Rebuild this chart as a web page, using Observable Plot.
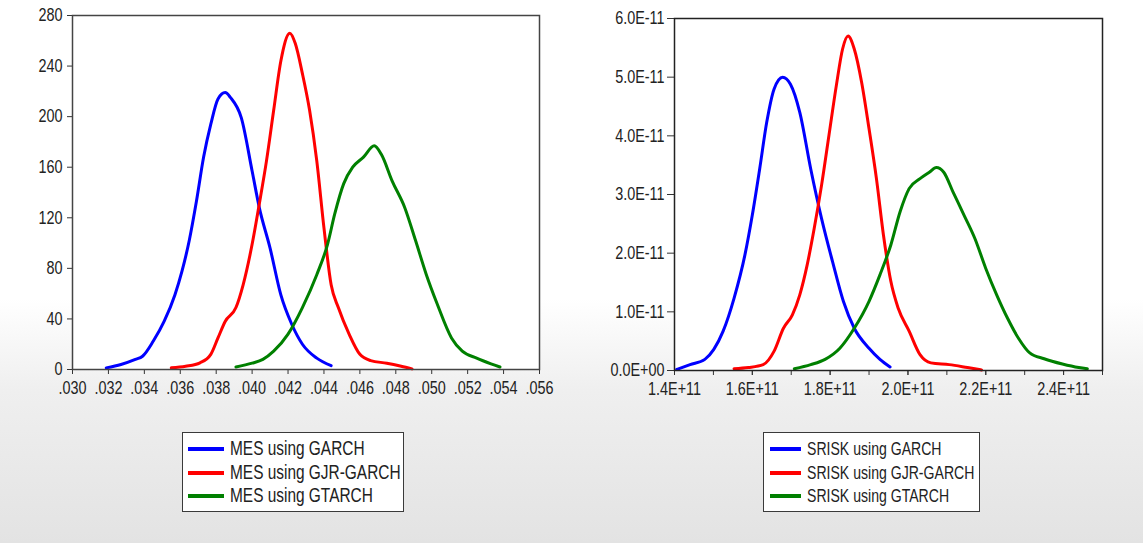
<!DOCTYPE html>
<html>
<head>
<meta charset="utf-8">
<script src="https://cdn.jsdelivr.net/npm/d3@7"></script>
<script src="https://cdn.jsdelivr.net/npm/@observablehq/plot@0.6"></script>
<style>
  html, body { margin: 0; padding: 0; }
  body { width: 1143px; height: 543px; overflow: hidden;
    background: linear-gradient(to bottom, #ffffff 0%, #ffffff 55%, #efefef 72%, #e3e3e3 100%); }
  #wrap { position: relative; width: 1143px; height: 543px;
    font-family: "Liberation Sans", Arial, sans-serif; color: #222; }
  .chart { position: absolute; top: 0; }
  .chart svg { background: transparent !important; overflow: visible; }
  .legend { position: absolute; background: #fff; border: 1.5px solid #3a3a3a; box-sizing: border-box; }
  .sw { position: absolute; height: 4px; }
  .lab { position: absolute; line-height: 22px; white-space: nowrap;
    transform: scaleX(0.80); transform-origin: 0 50%; }
</style>
</head>
<body>
<div id="wrap"></div>
<script>
// ---------------- DATA ----------------
const colors = ["#0000ff", "#ff0000", "#008000"];

// MES densities
const mesLabels = ["MES using GARCH", "MES using GJR-GARCH", "MES using GTARCH"];
const mesGarchX = [.03188,.0327,.0335,.0339,.0345,.0351,.0357,.0361,.0365,.0369,.0373,.0377,.0381,.0385,.0388,.0394,.0400,.0404,.0410,.0416,.0422,.0428,.0436,.0444];
const mesGarchY = [1.3,4,8,10.5,22.5,38,59,78,102,133,168,194,214,219,215,199,157,128,96,59,36,20,9,3];
const mesGjrX = [.0355,.0363,.0371,.0377,.0381,.0385,.0391,.0395,.0400,.0404,.0408,.0412,.0416,.0421,.0424,.0428,.0432,.0436,.0440,.0444,.0448,.0454,.0460,.0466,.0475,.0483,.0489];
const mesGjrY = [1.3,2.6,5.3,12,25,38,49,67,99,131,165,205,244,266,258,234,205,165,112,67,49,28,12,7,5,2.6,0.5];
const mesGtX = [.0391,.0400,.0406,.0412,.0420,.0428,.0436,.0442,.0446,.0451,.0456,.0462,.0468,.0472,.0478,.0485,.0491,.0497,.0503,.0511,.0517,.0525,.0533,.0538];
const mesGtY = [2,5,8,14.5,28,49,75,99,123,147,160,168,177,170,149,128,102,75,52,25,14.5,9,4.5,2];
const mesXTicks = [.030,.032,.034,.036,.038,.040,.042,.044,.046,.048,.050,.052,.054,.056];
const mesYTicks = [0,40,80,120,160,200,240,280];

// SRISK densities
const srLabels = ["SRISK using GARCH", "SRISK using GJR-GARCH", "SRISK using GTARCH"];
const srGarchX = [1.4056e11,1.440e11,1.478e11,1.501e11,1.525e11,1.553e11,1.581e11,1.600e11,1.619e11,1.637e11,1.656e11,1.678e11,1.698e11,1.722e11,1.750e11,1.778e11,1.806e11,1.834e11,1.862e11,1.900e11,1.928e11,1.954e11];
const srGarchY = [0.017e-11,0.10e-11,0.19e-11,0.36e-11,0.67e-11,1.23e-11,1.97e-11,2.65e-11,3.44e-11,4.23e-11,4.80e-11,5.00e-11,4.88e-11,4.40e-11,3.44e-11,2.59e-11,1.86e-11,1.18e-11,0.72e-11,0.38e-11,0.19e-11,0.06e-11];
const srGjrX = [1.553e11,1.590e11,1.628e11,1.656e11,1.680e11,1.703e11,1.722e11,1.741e11,1.759e11,1.778e11,1.797e11,1.816e11,1.832e11,1.846e11,1.862e11,1.881e11,1.900e11,1.919e11,1.937e11,1.956e11,1.975e11,2.003e11,2.031e11,2.059e11,2.106e11,2.153e11,2.189e11];
const srGjrY = [0.03e-11,0.05e-11,0.10e-11,0.33e-11,0.72e-11,0.95e-11,1.29e-11,1.80e-11,2.42e-11,3.16e-11,4.01e-11,4.86e-11,5.48e-11,5.70e-11,5.48e-11,4.91e-11,4.12e-11,3.27e-11,2.31e-11,1.52e-11,1.06e-11,0.67e-11,0.27e-11,0.13e-11,0.10e-11,0.05e-11,0.01e-11];
const srGtX = [1.708e11,1.750e11,1.787e11,1.825e11,1.862e11,1.900e11,1.928e11,1.956e11,1.980e11,2.003e11,2.031e11,2.055e11,2.073e11,2.092e11,2.116e11,2.144e11,2.172e11,2.200e11,2.228e11,2.256e11,2.284e11,2.313e11,2.350e11,2.397e11,2.439e11,2.461e11];
const srGtY = [0.03e-11,0.10e-11,0.19e-11,0.38e-11,0.72e-11,1.18e-11,1.63e-11,2.14e-11,2.71e-11,3.10e-11,3.27e-11,3.38e-11,3.46e-11,3.38e-11,3.04e-11,2.65e-11,2.25e-11,1.74e-11,1.29e-11,0.89e-11,0.55e-11,0.30e-11,0.20e-11,0.11e-11,0.05e-11,0.03e-11];
const srXTicks = [1.4e11,1.5e11,1.6e11,1.7e11,1.8e11,1.9e11,2.0e11,2.1e11,2.2e11,2.3e11,2.4e11,2.5e11];
const srXLabelTicks = [1.4e11,1.6e11,1.8e11,2.0e11,2.2e11,2.4e11];
const srYTicks = [0,1e-11,2e-11,3e-11,4e-11,5e-11,6e-11];

// ---------------- HELPERS ----------------
function rows(xs, ys, s) { return xs.map((x, i) => ({x, y: ys[i], s})); }
function sci(v) {
  if (v === 0) return "0.0E+00";
  let e = Math.floor(Math.log10(Math.abs(v)) + 1e-9);
  let m = v / Math.pow(10, e);
  return m.toFixed(1) + "E" + (e < 0 ? "-" : "+") + String(Math.abs(e)).padStart(2, "0");
}
const FONT = '"Liberation Sans", Arial, sans-serif';
const NARROW = 0.80;

const wrap = document.getElementById("wrap");

// emulate a narrow face: squeeze every tick label horizontally about its anchor
function narrow(svg) {
  svg.querySelectorAll("text").forEach(el => {
    const xa = el.getAttribute("x");
    const x = (xa && /^-?[\d.]+$/.test(xa)) ? +xa : 0;
    const t = el.getAttribute("transform") || "";
    el.setAttribute("transform", `${t} translate(${x},0) scale(${NARROW},1) translate(${-x},0)`.trim());
  });
}

function addChart(left, opts) {
  const div = document.createElement("div");
  div.className = "chart";
  div.style.left = left + "px";
  const svg = Plot.plot(opts);
  narrow(svg);
  div.appendChild(svg);
  wrap.appendChild(div);
}

function addLegend(left, top, width, labels, swLeft, swWidth, textLeft, fontSize) {
  const box = document.createElement("div");
  box.className = "legend";
  box.style.left = left + "px"; box.style.top = top + "px";
  box.style.width = width + "px"; box.style.height = "80px";
  const centers = [16, 39.5, 63];
  labels.forEach((l, i) => {
    const sw = document.createElement("div");
    sw.className = "sw";
    sw.style.left = swLeft + "px"; sw.style.width = swWidth + "px";
    sw.style.top = (centers[i] - 2) + "px";
    sw.style.background = colors[i];
    box.appendChild(sw);
    const t = document.createElement("div");
    t.className = "lab";
    t.style.fontSize = fontSize + "px";
    t.style.left = textLeft + "px"; t.style.top = (centers[i] - 11) + "px";
    t.textContent = l;
    box.appendChild(t);
  });
  wrap.appendChild(box);
}

// ---------------- LEFT: MES ----------------
const mesData = [
  ...rows(mesGarchX, mesGarchY, mesLabels[0]),
  ...rows(mesGjrX, mesGjrY, mesLabels[1]),
  ...rows(mesGtX, mesGtY, mesLabels[2])
];
addChart(0, {
  width: 570, height: 400,
  marginLeft: 72, marginRight: 31, marginTop: 15, marginBottom: 31,
  style: {fontFamily: FONT, fontSize: "18px", color: "#222", background: "transparent"},
  x: {domain: [0.030, 0.056], label: null},
  y: {domain: [0, 280], label: null},
  color: {domain: mesLabels, range: colors},
  marks: [
    Plot.rect([0], {x1: 0.030, x2: 0.056, y1: 0, y2: 280, fill: "#fff"}),
    Plot.line(mesData, {x: "x", y: "y", z: "s", stroke: "s", strokeWidth: 3, curve: "monotone-x"}),
    Plot.axisX({ticks: mesXTicks, tickFormat: d => d.toFixed(3).replace(/^0/, ""), tickSize: 5, tickPadding: 7, stroke: "#333", fontSize: 18}),
    Plot.axisY({ticks: mesYTicks, tickFormat: d => String(d), tickSize: 5, tickPadding: 5, stroke: "#333", fontSize: 18}),
    Plot.frame({stroke: "#444", strokeWidth: 1.5})
  ]
});
addLegend(182, 432, 222, mesLabels, 5, 36, 47, 19.3);

// ---------------- RIGHT: SRISK ----------------
const srData = [
  ...rows(srGarchX, srGarchY, srLabels[0]),
  ...rows(srGjrX, srGjrY, srLabels[1]),
  ...rows(srGtX, srGtY, srLabels[2])
];
addChart(570, {
  width: 573, height: 400,
  marginLeft: 104, marginRight: 41, marginTop: 18, marginBottom: 30,
  style: {fontFamily: FONT, fontSize: "18px", color: "#222", background: "transparent"},
  x: {domain: [1.4e11, 2.5e11], label: null},
  y: {domain: [0, 6e-11], label: null},
  color: {domain: srLabels, range: colors},
  marks: [
    Plot.rect([0], {x1: 1.4e11, x2: 2.5e11, y1: 0, y2: 6e-11, fill: "#fff"}),
    Plot.line(srData, {x: "x", y: "y", z: "s", stroke: "s", strokeWidth: 3, curve: "monotone-x"}),
    Plot.axisX({ticks: srXTicks, tickFormat: () => "", tickSize: 5, stroke: "#333"}),
    Plot.axisX({ticks: srXLabelTicks, tickFormat: sci, tickSize: 5, tickPadding: 7, stroke: "#333", fontSize: 18}),
    Plot.axisY({ticks: srYTicks, tickFormat: sci, tickSize: 7, tickPadding: 3, stroke: "#333", fontSize: 18}),
    Plot.frame({stroke: "#222", strokeWidth: 1.5})
  ]
});
addLegend(763, 432, 217, srLabels, 6, 31, 43, 17.6);
</script>
</body>
</html>
